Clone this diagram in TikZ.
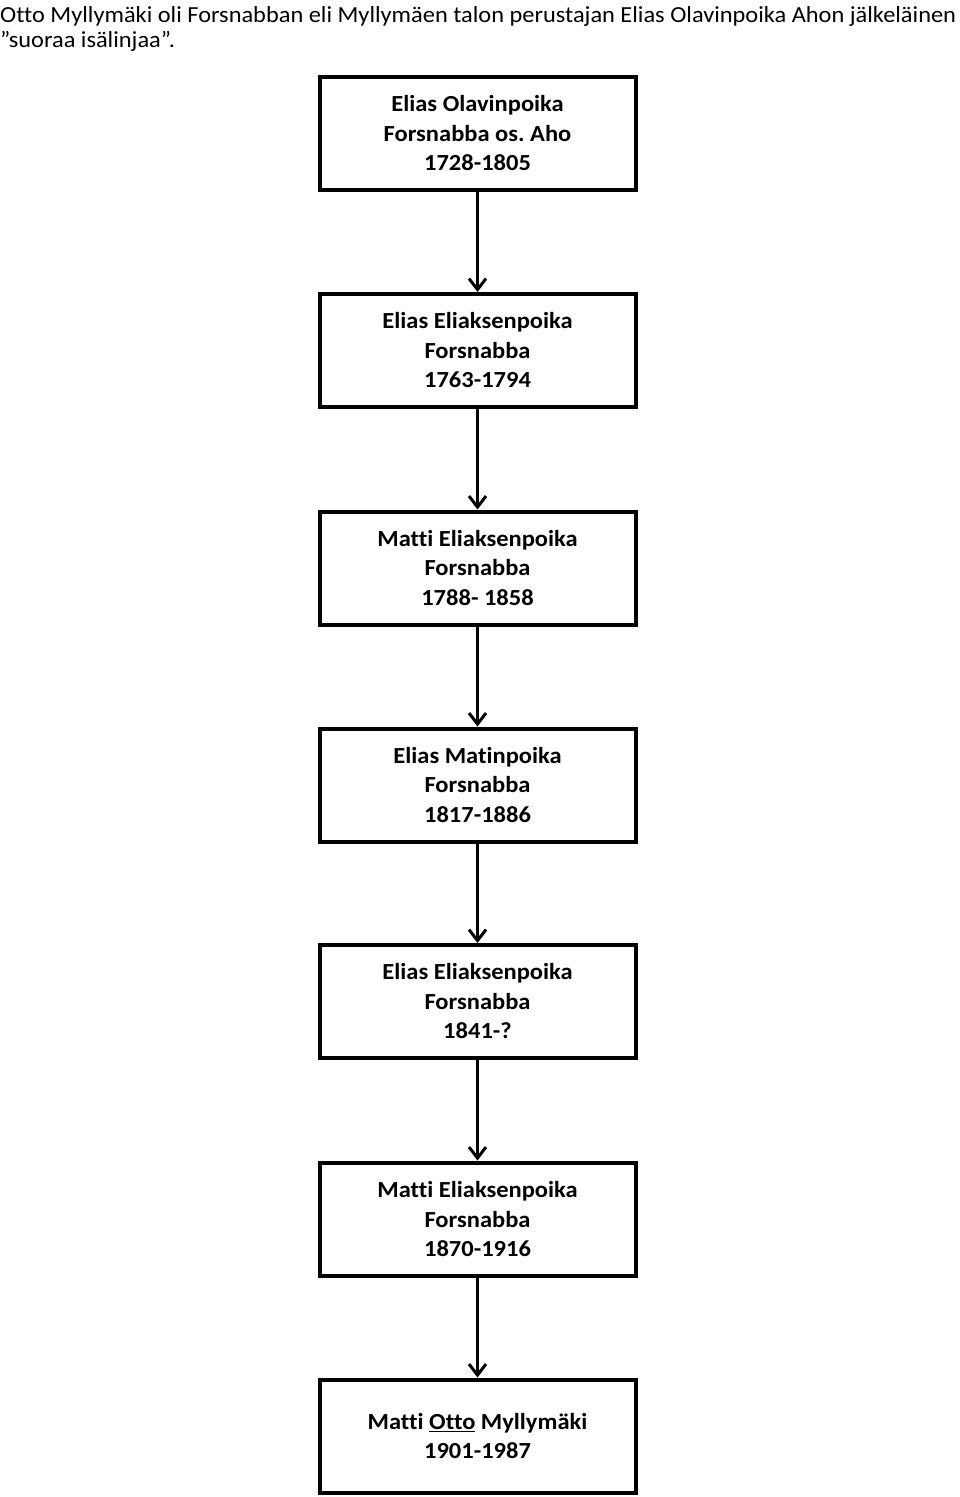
\documentclass[tikz,border=0pt]{standalone}
\usepackage{fontspec}
\setmainfont[Ligatures=NoCommon]{Carlito}
\newfontfamily\titlefont[FakeStretch=1.06,Ligatures=NoCommon]{Carlito}
\newfontfamily\boxfont[FakeStretch=1.065,Ligatures=NoCommon]{Carlito}
\usetikzlibrary{arrows.meta}
\frenchspacing
\begin{document}
\begin{tikzpicture}[x=1pt,y=-1pt,
  person/.style={draw=black,line width=4pt,minimum width=316pt,minimum height=113pt,
    inner sep=0pt,align=center,font=\boxfont\fontsize{23}{29.5}\selectfont\bfseries},
  link/.style={line width=3pt,-{Straight Barb[length=11pt,width=17pt,line width=3pt]}}]
\useasboundingbox (0,0) rectangle (960,1497);
\fill[white] (0,0) rectangle (960,1497);
\node[anchor=north west,inner sep=0pt,align=left,font=\titlefont\fontsize{23}{25}\selectfont] (title) at (0,6)
  {Otto Myllymäki oli Forsnabban eli Myllymäen talon perustajan Elias Olavinpoika Ahon jälkeläinen\\”suoraa isälinjaa”.};
\node[person] (p1) at (477.5,133.5) {Elias Olavinpoika\\Forsnabba os. Aho\\1728-1805};
\node[person] (p2) at (477.5,350.5) {Elias Eliaksenpoika\\Forsnabba\\1763-1794};
\node[person] (p3) at (477.5,568) {Matti Eliaksenpoika\\Forsnabba\\1788- 1858};
\node[person] (p4) at (477.5,785) {Elias Matinpoika\\Forsnabba\\1817-1886};
\node[person] (p5) at (477.5,1001.5) {Elias Eliaksenpoika\\Forsnabba\\1841-?};
\node[person] (p6) at (477.5,1219) {Matti Eliaksenpoika\\Forsnabba\\1870-1916};
\node[person] (p7) at (477.5,1436) {Matti \underline{Otto} Myllymäki\\1901-1987};
\foreach \a/\b in {p1/p2,p2/p3,p3/p4,p4/p5,p5/p6,p6/p7}
  \draw[link] (\a.south) -- (\b.north);
\end{tikzpicture}
\end{document}
